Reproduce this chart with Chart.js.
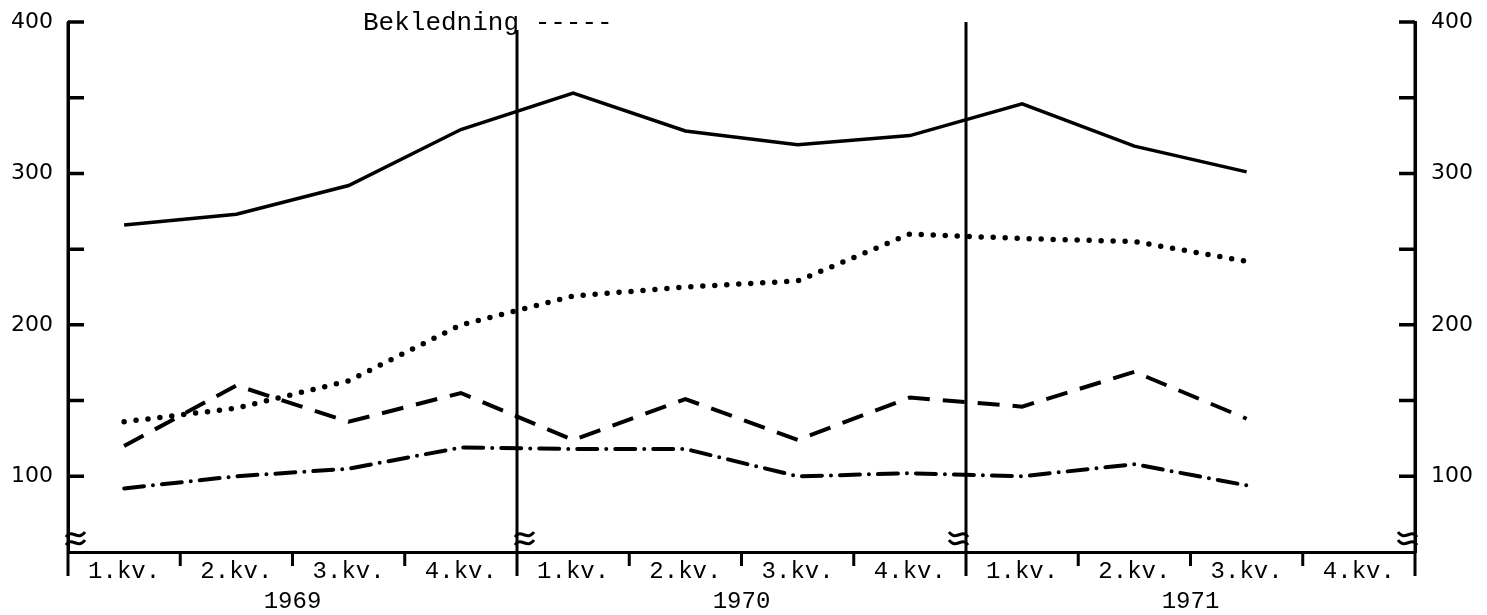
<!DOCTYPE html>
<html>
<head>
<meta charset="utf-8">
<script src="https://cdn.jsdelivr.net/npm/chart.js@4/dist/chart.umd.min.js"></script>
<style>
  html, body { margin: 0; padding: 0; background: #fff; }
  #wrap { width: 1487px; height: 615px; }
</style>
</head>
<body>
<div id="wrap"><canvas id="myChart" width="1487" height="615"></canvas></div>
<script>
// quarters 1969 - 1971
const quarters = ['1.kv.', '2.kv.', '3.kv.', '4.kv.', '1.kv.', '2.kv.', '3.kv.', '4.kv.', '1.kv.', '2.kv.', '3.kv.', '4.kv.'];
const years = ['1969', '1970', '1971'];
const yTicks = [100, 200, 300, 400];

// index values (4.kv. 1971 has no value)
const seriesSolid = [266, 273, 292, 329, 353, 328, 319, 325, 346, 318, 301];
const seriesDotted = [136, 145, 163, 200, 219, 225, 229, 260, 257, 255, 242];
const bekledning = [120, 160, 136, 155, 124, 151, 124, 152, 146, 169, 138];
const seriesDashDot = [92, 100, 105, 119, 118, 118, 100, 102, 100, 108, 94];

const ink = '#000';
const monoFont = '"Liberation Mono", monospace';

function wave(ctx, x0, y, dir) {
    // one stroke of the "≈" break mark
    ctx.beginPath();
    ctx.moveTo(x0 - dir * 2, y + 2);
    ctx.bezierCurveTo(x0 + dir * 4, y - 7, x0 + dir * 10, y + 7, x0 + dir * 17, y - 3);
    ctx.stroke();
}

function noPadding(scale) {
    scale.paddingTop = 0;
    scale.paddingBottom = 0;
}

const extras = {
    id: 'extras',
    afterDraw(chart) {
        const ctx = chart.ctx;
        const area = chart.chartArea;
        const x = chart.scales.x;
        const y = chart.scales.y;
        ctx.save();
        ctx.strokeStyle = ink;
        ctx.fillStyle = ink;
        ctx.lineCap = 'butt';

        // inward ticks on both value axes
        ctx.lineWidth = 3.5;
        for (let v = 100; v <= 400; v += 50) {
            const py = y.getPixelForValue(v);
            ctx.beginPath();
            ctx.moveTo(area.left, py);
            ctx.lineTo(area.left + 16, py);
            ctx.moveTo(area.right - 16, py);
            ctx.lineTo(area.right, py);
            ctx.stroke();
        }

        // quarter boundaries under the x axis, year dividers full height
        const bounds = [];
        for (let i = 0; i <= quarters.length; i++) {
            let px;
            if (i === 0) px = area.left;
            else if (i === quarters.length) px = area.right;
            else px = (x.getPixelForValue(i - 1) + x.getPixelForValue(i)) / 2;
            bounds.push(px);
        }
        ctx.lineWidth = 3;
        bounds.forEach((px, i) => {
            ctx.beginPath();
            if (i % 4 === 0) {
                const top = i === 4 ? area.top + 8 : area.top;
                ctx.moveTo(px, top);
                ctx.lineTo(px, area.bottom + 24);
            } else {
                ctx.moveTo(px, area.bottom);
                ctx.lineTo(px, area.bottom + 14);
            }
            ctx.stroke();
        });

        // break marks near the bottom of each vertical line
        ctx.lineWidth = 3;
        [[bounds[0], 1], [bounds[4], 1], [bounds[8], -1], [bounds[12], -1]].forEach(b => {
            wave(ctx, b[0], area.bottom - 17, b[1]);
            wave(ctx, b[0], area.bottom - 9, b[1]);
        });

        // year labels
        ctx.font = '24px ' + monoFont;
        ctx.textAlign = 'center';
        ctx.textBaseline = 'middle';
        years.forEach((yr, k) => {
            const cx = (x.getPixelForValue(k * 4 + 1) + x.getPixelForValue(k * 4 + 2)) / 2;
            ctx.fillText(yr, cx, 602);
        });

        // legend entry at the top
        ctx.font = '26px ' + monoFont;
        ctx.textAlign = 'left';
        ctx.fillText('Bekledning -----', 363, 23);
        ctx.restore();
    }
};

const ctx = document.getElementById('myChart');

const config = {
    type: 'line',
    data: {
        labels: quarters,
        datasets: [{
            label: 'Serie 1',
            data: seriesSolid,
            borderColor: ink,
            borderWidth: 3.5,
            pointRadius: 0
        }, {
            label: 'Serie 2',
            data: seriesDotted,
            borderColor: ink,
            borderWidth: 5.5,
            borderDash: [0, 12],
            borderCapStyle: 'round',
            pointRadius: 0
        }, {
            label: 'Bekledning',
            data: bekledning,
            borderColor: ink,
            borderWidth: 4,
            borderDash: [22, 13],
            pointRadius: 0
        }, {
            label: 'Serie 4',
            data: seriesDashDot,
            borderColor: ink,
            borderWidth: 4,
            borderDash: [20, 9, 0, 9],
            borderCapStyle: 'round',
            pointRadius: 0
        }]
    },
    options: {
        responsive: false,
        animation: false,
        layout: { padding: { top: 22, left: 0, right: 0, bottom: 0 } },
        plugins: {
            legend: { display: false },
            tooltip: { enabled: false }
        },
        scales: {
            x: {
                offset: true,
                grid: { display: false, drawTicks: false },
                border: { display: true, width: 3, color: ink },
                ticks: {
                    color: ink,
                    padding: 8,
                    maxRotation: 0,
                    autoSkip: false,
                    font: { family: monoFont, size: 24, lineHeight: 1 }
                },
                afterFit(scale) {
                    scale.height = 63;
                    scale.paddingLeft = 0;
                    scale.paddingRight = 0;
                }
            },
            y: {
                position: 'left',
                min: 50,
                max: 400,
                grid: { display: false, drawTicks: false },
                border: { display: true, width: 3, color: ink },
                ticks: {
                    stepSize: 50,
                    padding: 15,
                    color: ink,
                    font: { family: '"DejaVu Sans", sans-serif', size: 22 },
                    callback: v => yTicks.includes(v) ? v : ''
                },
                afterFit(scale) {
                    scale.width = 68;
                    noPadding(scale);
                }
            },
            y2: {
                position: 'right',
                min: 50,
                max: 400,
                grid: { display: false, drawTicks: false },
                border: { display: true, width: 3, color: ink },
                ticks: {
                    stepSize: 50,
                    padding: 16,
                    color: ink,
                    font: { family: '"DejaVu Sans", sans-serif', size: 22 },
                    callback: v => yTicks.includes(v) ? v : ''
                },
                afterFit(scale) {
                    scale.width = 72;
                    noPadding(scale);
                }
            }
        }
    },
    plugins: [extras]
};

new Chart(ctx, config);
</script>
</body>
</html>
